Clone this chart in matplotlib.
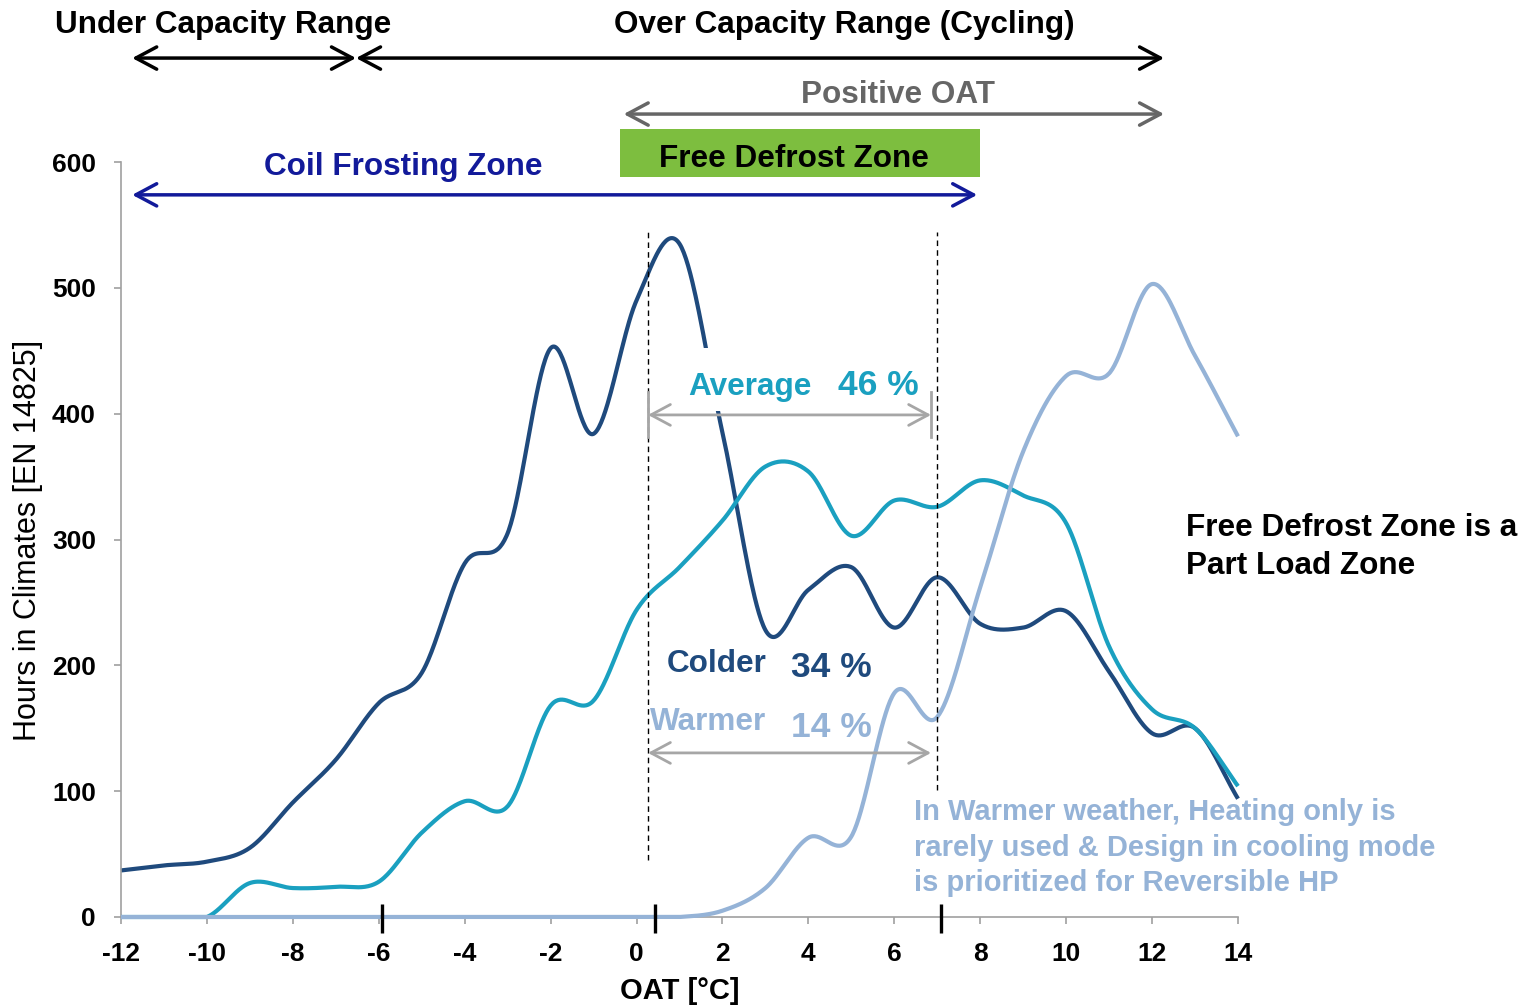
import numpy as np
import matplotlib
matplotlib.use("Agg")
import matplotlib.pyplot as plt
from matplotlib.patches import Rectangle

plt.rcParams['font.family'] = ['Liberation Sans', 'DejaVu Sans']

# ---------------- data ----------------
oat = list(range(-12, 15))
colder = [37, 41, 44, 55, 91, 125, 170, 194, 281, 305, 452, 384, 490, 535,
          385, 228, 260, 278, 230, 270, 233, 230, 243, 195, 146, 150, 94]
average = [0, 0, 0, 27, 23, 24, 28, 67, 92, 88, 168, 172, 244, 278,
           315, 358, 354, 303, 331, 326, 347, 335, 313, 215, 165, 150, 104]
warmer = [0, 0, 0, 0, 0, 0, 0, 0, 0, 0, 0, 0, 0, 0,
          5, 23, 63, 64, 178, 159, 262, 370, 430, 432, 503, 446, 382]
x_ticks = list(range(-12, 15, 2))
y_ticks = [0, 100, 200, 300, 400, 500, 600]

C_COLD = '#1F4A7D'
C_AVG = '#1AA0C0'
C_WARM = '#95B3D7'
C_NAVY = '#121A9A'
C_GREEN = '#7DBE3F'
C_GREY = '#A6A6A6'


def smooth(xs, ys, n=40):
    xs = np.asarray(xs, float)
    ys = np.asarray(ys, float)
    m = np.gradient(ys, xs)
    ox, oy = [], []
    for i in range(len(xs) - 1):
        h = xs[i + 1] - xs[i]
        t = np.linspace(0, 1, n, endpoint=(i == len(xs) - 2))
        h00 = 2 * t**3 - 3 * t**2 + 1
        h10 = t**3 - 2 * t**2 + t
        h01 = -2 * t**3 + 3 * t**2
        h11 = t**3 - t**2
        ox.append(xs[i] + h * t)
        oy.append(h00 * ys[i] + h10 * h * m[i] + h01 * ys[i + 1] + h11 * h * m[i + 1])
    return np.concatenate(ox), np.maximum(np.concatenate(oy), 0)


W, H = 1537, 1007
fig = plt.figure(figsize=(W / 100, H / 100), dpi=100)
ax = fig.add_axes([121 / W, (H - 917) / H, 1117 / W, 755 / H])
ax.set_xlim(-12, 14)
ax.set_ylim(0, 600)

for s in ['top', 'right']:
    ax.spines[s].set_visible(False)
for s in ['left', 'bottom']:
    ax.spines[s].set_color('#A0A0A0')
    ax.spines[s].set_linewidth(1.2)

ax.set_xticks(x_ticks, labels=[str(v) for v in x_ticks], fontweight='bold', fontsize=19)
ax.set_yticks(y_ticks, labels=[str(v) for v in y_ticks], fontweight='bold', fontsize=19)
ax.tick_params(axis='x', direction='out', length=5, width=1.2, color='#A0A0A0', pad=13)
ax.tick_params(axis='y', direction='out', length=5, width=1.2, color='#A0A0A0', pad=13)

# curves
for vals, col, z in [(colder, C_COLD, 2), (average, C_AVG, 3), (warmer, C_WARM, 4)]:
    sx, sy = smooth(oat, vals)
    ax.plot(sx, sy, color=col, lw=3.0, zorder=z, clip_on=False,
            solid_capstyle='butt', solid_joinstyle='round')

# white box behind "Average 46 %"
ax.add_patch(Rectangle((1.0, 402), 5.7, 50, facecolor='white', edgecolor='none', zorder=2.5))

# dashed vertical guides
ax.plot([0.267, 0.267], [45, 546], color='black', lw=1, ls=(0, (4, 3)), zorder=5)
ax.plot([6.99, 6.99], [101, 544], color='black', lw=1, ls=(0, (4, 3)), zorder=5)

# thick marks on x axis
for xm in [-5.92, 0.42, 7.08]:
    ax.plot([xm, xm], [-12.7, 10.3], color='black', lw=2.4, zorder=6, clip_on=False,
            solid_capstyle='butt')


def darrow(x0, x1, y, color, lw=2.5, hl=15, hw=8):
    ax.annotate('', xy=(x1, y), xytext=(x0, y), xycoords='data',
                arrowprops=dict(arrowstyle=f'<->,head_length={hl},head_width={hw}',
                                mutation_scale=1, color=color, lw=lw,
                                shrinkA=0, shrinkB=0),
                annotation_clip=False, zorder=6)


# top range arrows
darrow(-11.74, -6.53, 682.6, 'black')
darrow(-6.53, 12.28, 682.6, 'black')
darrow(-0.30, 12.28, 638.1, '#666666')
darrow(-11.74, 7.93, 573.9, C_NAVY)

# green box
ax.add_patch(Rectangle((-0.396, 587.7), 8.401, 38.5, facecolor=C_GREEN, edgecolor='none',
                       zorder=5, clip_on=False))

big = dict(fontsize=22.7, fontweight='bold', ha='center', va='baseline', zorder=7)
ax.text(-9.626, 702.2, 'Under Capacity Range', color='black', **big)
ax.text(4.83, 702.2, 'Over Capacity Range (Cycling)', color='black', **big)
ax.text(6.087, 646.8, 'Positive OAT', color='#666666', **big)
ax.text(3.655, 596.2, 'Free Defrost Zone', color='black', **big)
ax.text(-5.44, 589.6, 'Coil Frosting Zone', color=C_NAVY, **big)

# share annotations
ax.text(1.198, 415, 'Average', color=C_AVG, fontsize=22.7, fontweight='bold', va='baseline', zorder=7)
ax.text(4.69, 415, '46 %', color=C_AVG, fontsize=25.5, fontweight='bold', va='baseline', zorder=7)
ax.text(0.71, 194.8, 'Colder', color=C_COLD, fontsize=22.7, fontweight='bold', va='baseline', zorder=7)
ax.text(3.596, 190.8, '34 %', color=C_COLD, fontsize=25.5, fontweight='bold', va='baseline', zorder=7)
ax.text(0.314, 148.6, 'Warmer', color=C_WARM, fontsize=22.7, fontweight='bold', va='baseline', zorder=7)
ax.text(3.596, 143.3, '14 %', color=C_WARM, fontsize=25.5, fontweight='bold', va='baseline', zorder=7)

darrow(0.267, 6.855, 399, C_GREY, lw=2, hl=14, hw=7.5)
darrow(0.267, 6.855, 130.4, C_GREY, lw=2, hl=14, hw=7.5)
for xb in [0.267, 6.855]:
    ax.plot([xb, xb], [381.6, 417.4], color=C_GREY, lw=2, zorder=6)

ax.text(12.79, 294, 'Free Defrost Zone is a\nPart Load Zone', color='black', fontsize=22.7,
        fontweight='bold', ha='left', va='center', linespacing=1.32, zorder=7)
ax.text(6.46, 55.2, 'In Warmer weather, Heating only is\nrarely used & Design in cooling mode\n'
        'is prioritized for Reversible HP', color=C_WARM, fontsize=21,
        fontweight='bold', ha='left', va='center', linespacing=1.33, zorder=7)

fig.text(28 / W, 1 - 540 / H, 'Hours in Climates [EN 14825]', rotation=90, ha='center',
         va='center', fontsize=22)
fig.text(680 / W, 16 / H, 'OAT [°C]', ha='center', va='center', fontsize=21, fontweight='bold')

fig.savefig('out.png', dpi=100)
